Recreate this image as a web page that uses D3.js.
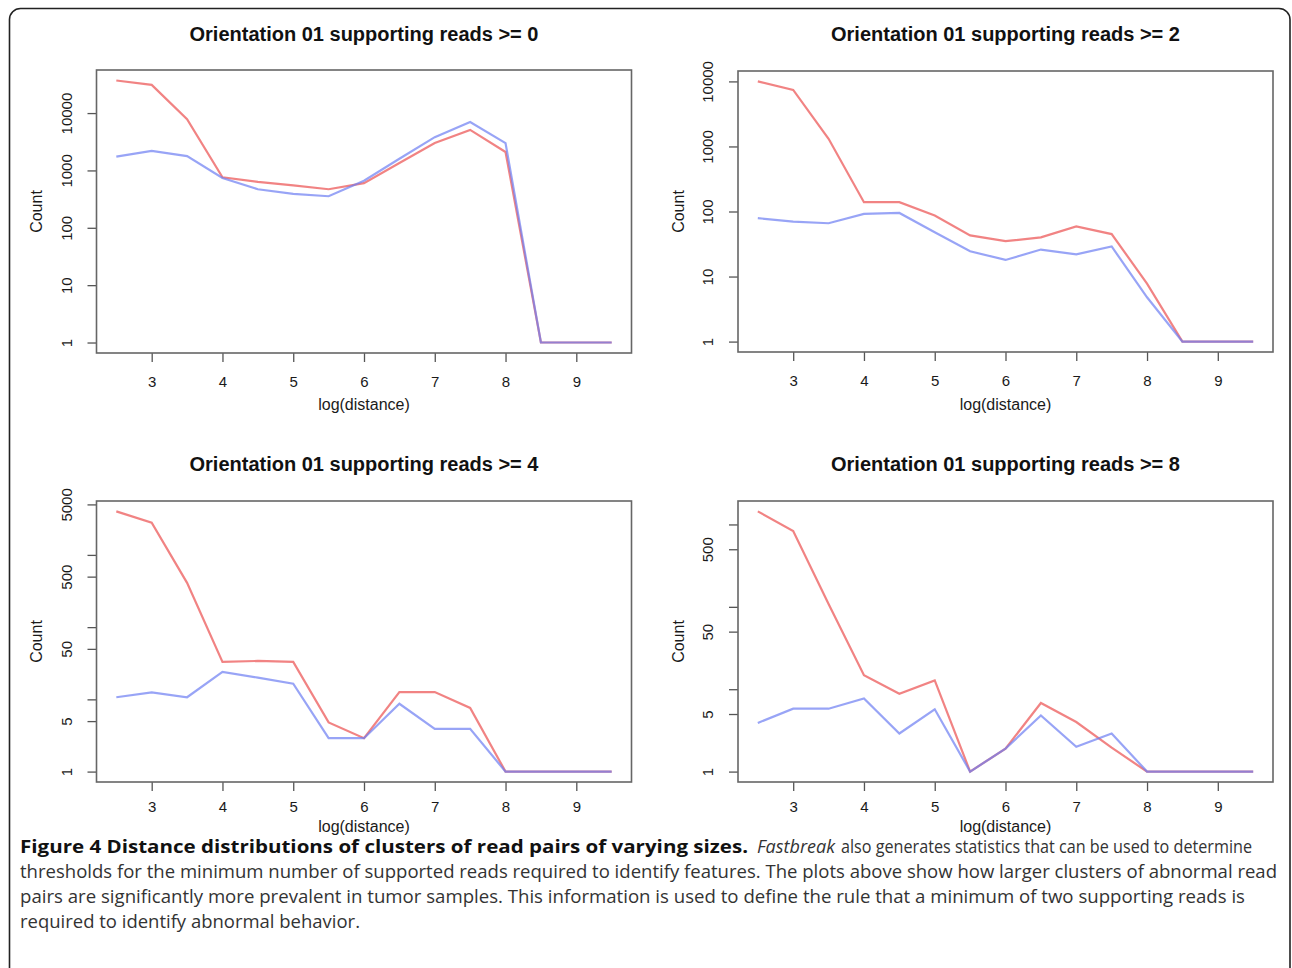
<!DOCTYPE html>
<html>
<head>
<meta charset="utf-8">
<script src="https://cdn.jsdelivr.net/npm/d3@7"></script>
<style>
  body { margin: 0; background: #fff; }
  svg { display: block; }
  .tick text { font-family: "Liberation Sans", Arial, sans-serif; font-size: 15px; fill: #1a1a1a; }
  .tick line { stroke: #555; stroke-width: 1.3; }
  .title { font-family: "Liberation Sans", Arial, sans-serif; font-size: 20px; font-weight: bold; fill: #111; }
  .axis-label { font-family: "Liberation Sans", Arial, sans-serif; font-size: 16px; fill: #1a1a1a; }
  .caption { font-family: "Open Sans", sans-serif; font-size: 17.5px; fill: #333; }
</style>
</head>
<body>
<svg id="fig" width="1292" height="968"></svg>
<script>
// log(distance) bins, shared by all four panels
const distance = [2.5, 3, 3.5, 4, 4.5, 5, 5.5, 6, 6.5, 7, 7.5, 8, 8.5, 9, 9.5];
const xTicks = [3, 4, 5, 6, 7, 8, 9];

const titles = [
  "Orientation 01 supporting reads >= 0",
  "Orientation 01 supporting reads >= 2",
  "Orientation 01 supporting reads >= 4",
  "Orientation 01 supporting reads >= 8"
];

// red = tumour, blue = normal
const tumor0  = [37000, 31000, 7800, 760, 630, 550, 470, 600, 1350, 3000, 5100, 2100, 1, 1, 1];
const normal0 = [1740, 2200, 1780, 740, 470, 390, 355, 660, 1600, 3800, 7000, 3000, 1, 1, 1];

const tumor2  = [10000, 7400, 1310, 139, 139, 87, 43, 35, 40, 59, 45, 7.8, 1, 1, 1];
const normal2 = [79, 70, 66, 92, 95, 48, 24.5, 18, 26, 22, 29, 4.8, 1, 1, 1];

const tumor4  = [4000, 2800, 410, 33, 34, 33, 4.8, 2.9, 12.6, 12.6, 7.6, 1, 1, 1, 1];
const normal4 = [10.7, 12.5, 10.7, 24, 20, 16.5, 2.9, 2.9, 8.7, 3.9, 3.9, 1, 1, 1, 1];

const tumor8  = [1440, 830, 108, 14.8, 8.8, 12.8, 1, 1.9, 6.8, 4.0, 1.95, 1, 1, 1, 1];
const normal8 = [3.9, 5.8, 5.8, 7.7, 2.9, 5.7, 1, 1.9, 4.8, 2.0, 2.9, 1, 1, 1, 1];

// y ticks (R puts a tick at each, but drops labels that would collide)
const yTicks0 = [1, 10, 100, 1000, 10000];
const yLabels0 = [1, 10, 100, 1000, 10000];
const yTicks4 = [1, 5, 10, 50, 100, 500, 1000, 5000];
const yLabels4 = [1, 5, 50, 500, 5000];
const yTicks8 = [1, 5, 10, 50, 100, 500, 1000];
const yLabels8 = [1, 5, 50, 500];

const panels = [
  { title: titles[0], red: tumor0, blue: normal0, ticks: yTicks0, labels: yLabels0, box: [96.5, 70, 631.5, 353] },
  { title: titles[1], red: tumor2, blue: normal2, ticks: yTicks0, labels: yLabels0, box: [738, 71, 1273, 352] },
  { title: titles[2], red: tumor4, blue: normal4, ticks: yTicks4, labels: yLabels4, box: [96.5, 501, 631.5, 782] },
  { title: titles[3], red: tumor8, blue: normal8, ticks: yTicks8, labels: yLabels8, box: [738, 501, 1273, 782] }
];

const svg = d3.select("#fig");

// rounded frame round the whole figure (bottom runs off the page)
svg.append("rect")
  .attr("x", 9.5).attr("y", 8.5)
  .attr("width", 1280.5).attr("height", 975)
  .attr("rx", 11)
  .attr("fill", "none")
  .attr("stroke", "#222")
  .attr("stroke-width", 1.6);

// R style: 4% padding on each side of the data range
function padded(lo, hi) {
  const d = (hi - lo) * 0.04;
  return [lo - d, hi + d];
}

panels.forEach((p, i) => {
  const [x0, y0, x1, y1] = p.box;
  const top = i < 2;

  const x = d3.scaleLinear()
    .domain(padded(d3.min(distance), d3.max(distance)))
    .range([x0, x1]);

  const maxV = d3.max(p.red.concat(p.blue));
  const [l0, l1] = padded(0, Math.log10(maxV));
  const y = d3.scaleLog()
    .domain([Math.pow(10, l0), Math.pow(10, l1)])
    .range([y1, y0]);

  const g = svg.append("g");

  // title
  g.append("text")
    .attr("class", "title")
    .attr("x", (x0 + x1) / 2)
    .attr("y", top ? 34 : 464)
    .attr("dy", "0.35em")
    .attr("text-anchor", "middle")
    .text(p.title);

  // x axis
  g.append("g")
    .attr("transform", `translate(0,${y1})`)
    .call(d3.axisBottom(x).tickValues(xTicks).tickSize(9).tickSizeOuter(0).tickFormat(d3.format("d")))
    .call(a => a.select(".domain").remove())
    .call(a => a.selectAll("text").attr("y", top ? 29 : 25).attr("dy", "0.35em"));

  // y axis, labels turned like R's las = 0
  g.append("g")
    .attr("transform", `translate(${x0},0)`)
    .call(d3.axisLeft(y).tickValues(p.ticks).tickSize(9)
      .tickFormat(d => p.labels.includes(d) ? String(d) : ""))
    .call(a => a.select(".domain").remove())
    .call(a => a.selectAll("text")
      .attr("x", null).attr("dy", "0.35em")
      .attr("text-anchor", "middle")
      .attr("transform", "translate(-30,0) rotate(-90)"));

  g.append("text")
    .attr("class", "axis-label")
    .attr("x", (x0 + x1) / 2)
    .attr("y", top ? 404 : 826)
    .attr("dy", "0.35em")
    .attr("text-anchor", "middle")
    .text("log(distance)");

  g.append("text")
    .attr("class", "axis-label")
    .attr("transform", `translate(${x0 - 60},${(y0 + y1) / 2}) rotate(-90)`)
    .attr("dy", "0.35em")
    .attr("text-anchor", "middle")
    .text("Count");

  // series
  const line = d3.line()
    .x((d, k) => x(distance[k]))
    .y(d => y(d));

  g.append("path")
    .attr("d", line(p.red))
    .attr("fill", "none")
    .attr("stroke", "#ee6464")
    .attr("stroke-opacity", 0.8)
    .attr("stroke-width", 2.2);

  g.append("path")
    .attr("d", line(p.blue))
    .attr("fill", "none")
    .attr("stroke", "#6c7ef2")
    .attr("stroke-opacity", 0.7)
    .attr("stroke-width", 2.2);

  // plot box
  g.append("rect")
    .attr("x", x0).attr("y", y0)
    .attr("width", x1 - x0).attr("height", y1 - y0)
    .attr("fill", "none")
    .attr("stroke", "#666")
    .attr("stroke-width", 1.6);
});

// caption, one text per run so each can be fitted to its width
const captionRuns = [
  { t: "Figure 4 Distance distributions of clusters of read pairs of varying sizes.", x: 20, w: 728, y: 853, bold: true },
  { t: "Fastbreak", x: 757, w: 78, y: 853, italic: true },
  { t: "also generates statistics that can be used to determine", x: 841, w: 411, y: 853 },
  { t: "thresholds for the minimum number of supported reads required to identify features. The plots above show how larger clusters of abnormal read", x: 20, w: 1257, y: 878 },
  { t: "pairs are significantly more prevalent in tumor samples. This information is used to define the rule that a minimum of two supporting reads is", x: 20, w: 1225, y: 903 },
  { t: "required to identify abnormal behavior.", x: 20, w: 340, y: 928 }
];

svg.append("g").selectAll("text")
  .data(captionRuns)
  .join("text")
  .attr("class", "caption")
  .attr("x", d => d.x)
  .attr("y", d => d.y)
  .attr("textLength", d => d.w)
  .attr("lengthAdjust", "spacingAndGlyphs")
  .attr("font-weight", d => d.bold ? "bold" : null)
  .attr("font-style", d => d.italic ? "italic" : null)
  .style("fill", d => d.bold ? "#111" : null)
  .text(d => d.t);
</script>
</body>
</html>
